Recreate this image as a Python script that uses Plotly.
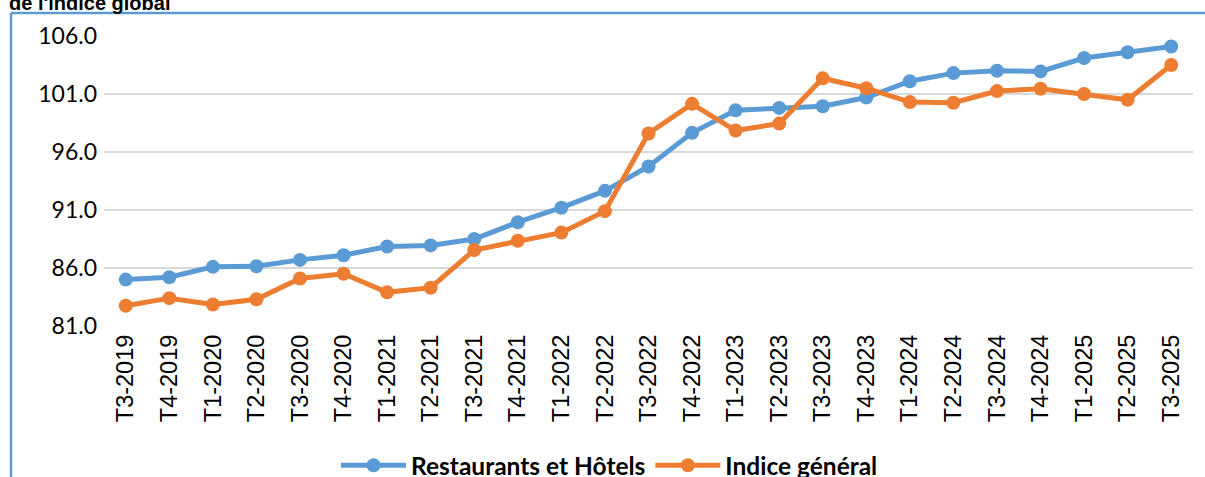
import plotly.graph_objects as go

categories = ["T3-2019", "T4-2019", "T1-2020", "T2-2020", "T3-2020", "T4-2020",
              "T1-2021", "T2-2021", "T3-2021", "T4-2021", "T1-2022", "T2-2022",
              "T3-2022", "T4-2022", "T1-2023", "T2-2023", "T3-2023", "T4-2023",
              "T1-2024", "T2-2024", "T3-2024", "T4-2024", "T1-2025", "T2-2025",
              "T3-2025"]

restaurants_hotels = [85.0, 85.2, 86.1, 86.15, 86.7, 87.1,
                      87.85, 87.95, 88.5, 89.95, 91.2, 92.65,
                      94.75, 97.65, 99.6, 99.8, 99.95, 100.7,
                      102.1, 102.8, 103.0, 102.95, 104.1, 104.6,
                      105.1]

indice_general = [82.75, 83.4, 82.85, 83.3, 85.1, 85.5,
                  83.9, 84.3, 87.55, 88.35, 89.05, 90.9,
                  97.6, 100.15, 97.85, 98.45, 102.35, 101.5,
                  100.3, 100.25, 101.25, 101.45, 101.0, 100.5,
                  103.5]

series_names = ["Restaurants et Hôtels", "Indice général"]
series_colors = ["#5B9BD5", "#ED7D31"]
title_text = "de l'indice global"

W, H = 1205, 477
L, R, T, B = 104, 1193, 36, 326.5


def px(x):
    return (x - L) / (R - L)


def py(y):
    return (B - y) / (B - T)


fig = go.Figure()
for name, vals, col in zip(series_names, [restaurants_hotels, indice_general], series_colors):
    fig.add_trace(go.Scatter(
        x=categories, y=vals, name=name, mode="lines+markers",
        line=dict(color=col, width=5),
        marker=dict(color=col, size=14),
    ))

fig.update_layout(
    width=W, height=H,
    margin=dict(l=L, r=W - R, t=T, b=H - B, autoexpand=False),
    paper_bgcolor="white", plot_bgcolor="white",
    showlegend=True,
    legend=dict(
        orientation="h", x=px(336), xanchor="left", y=py(466), yanchor="middle",
        font=dict(family="Lato", size=24.5, color="black", weight="bold"),
        itemwidth=65, bgcolor="rgba(0,0,0,0)",
    ),
    xaxis=dict(
        type="category", range=[-0.5, len(categories) - 0.5],
        tickangle=-90, showgrid=False, showline=False, zeroline=False,
        ticks="", tickfont=dict(family="Liberation Sans", size=23.5, color="black"),
        ticklabelstandoff=3,
    ),
    yaxis=dict(
        range=[81, 106], tick0=81, dtick=5, tickformat=".1f",
        showgrid=True, gridcolor="#D9D9D9", gridwidth=2,
        zeroline=False, showline=False, ticks="",
        tickfont=dict(family="Lato", size=23, color="black"),
        ticklabelstandoff=6,
    ),
    shapes=[
        dict(type="line", xref="paper", yref="paper", x0=px(11), x1=px(1215),
             y0=py(13), y1=py(13), line=dict(color="#5B9BD5", width=2.5)),
        dict(type="line", xref="paper", yref="paper", x0=px(11), x1=px(11),
             y0=py(13), y1=py(490), line=dict(color="#5B9BD5", width=2.5)),
    ],
    annotations=[
        dict(text="<b>" + title_text + "</b>", xref="paper", yref="paper",
             x=px(7), y=py(16), xanchor="left", yanchor="bottom", showarrow=False,
             font=dict(family="Liberation Sans", size=20, color="black")),
    ],
)

fig.write_html(
    "out.html",
    config={"displayModeBar": False},
    post_script="document.body.style.margin='0px';document.body.style.overflow='hidden';",
)
